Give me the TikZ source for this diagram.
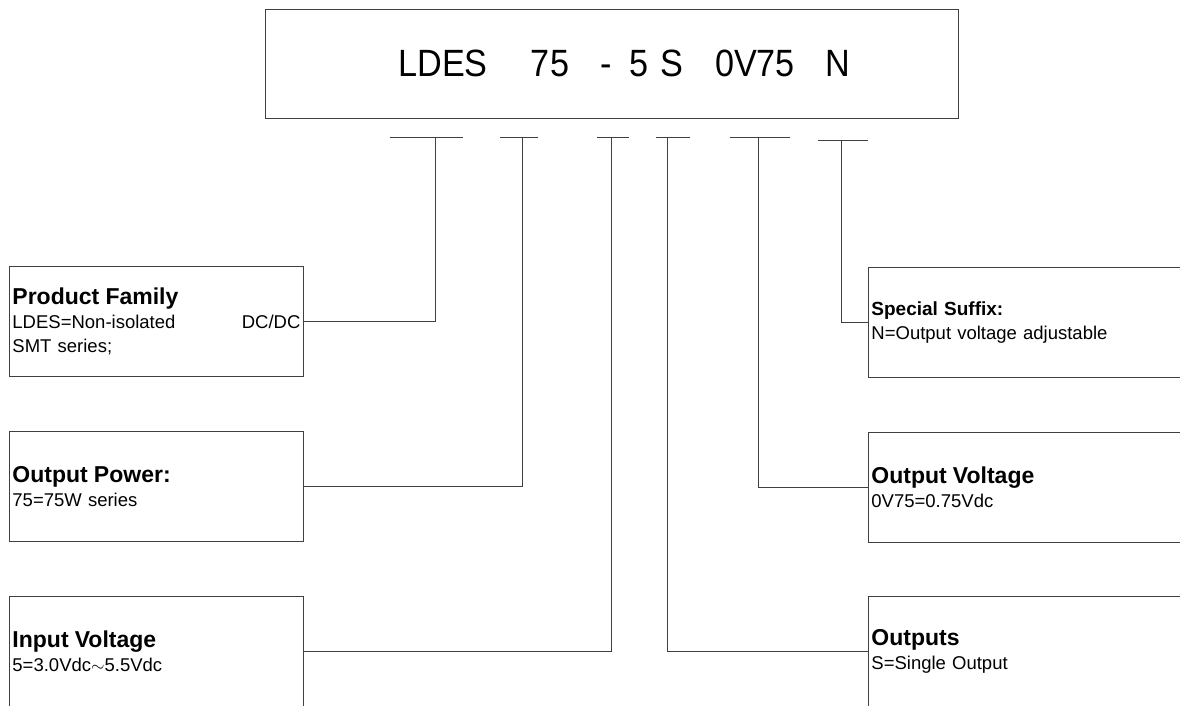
\documentclass[tikz,border=0pt]{standalone}
\usepackage{fontspec}
\setmainfont{Liberation Sans}
\newfontfamily\codefont[FakeStretch=0.9]{Liberation Sans}
\usepackage{tikz}
\usetikzlibrary{positioning}
\definecolor{linegray}{RGB}{64, 64, 64}
\newcommand{\boxtitle}[1]{{\fontsize{23}{24}\selectfont\bfseries #1}}

\begin{document}
\begin{tikzpicture}[x=1pt, y=-1pt,
    infobox/.style={draw=linegray, line width=0.9pt, minimum height=110pt, inner xsep=3pt, inner ysep=0pt,
                    align=left, anchor=north west, font=\fontsize{18.5}{24}\selectfont},
    codepart/.style={font=\codefont\fontsize{38}{38}\selectfont, anchor=base, inner sep=0pt},
    bar/.style={draw=linegray, line width=0.9pt}]
    \useasboundingbox (0,0) rectangle (1180,705);

    % model code
    \node[draw=linegray, line width=0.9pt, minimum width=693pt, minimum height=109pt, anchor=north west] (code) at (265,9) {};
    \node[codepart] (cLDES) at (443,76) {LDES};
    \node[codepart] (cPower) at (550,76) {75};
    \node[codepart] (cDash) at (606,76) {-};
    \node[codepart] (cInput) at (639,76) {5};
    \node[codepart] (cOut) at (672,76) {S};
    \node[codepart] (cVolt) at (755,76) {0V75};
    \node[codepart] (cSuffix) at (838,76) {N};

    % ticks under the code
    \coordinate (t1) at (435,137);
    \coordinate (t2) at (522,137);
    \coordinate (t3) at (611,137);
    \coordinate (t4) at (667,137);
    \coordinate (t5) at (758,137);
    \coordinate (t6) at (841,140);
    \draw[bar] ([xshift=-45pt]t1) -- ([xshift=28pt]t1);
    \draw[bar] ([xshift=-22pt]t2) -- ([xshift=16pt]t2);
    \draw[bar] ([xshift=-14pt]t3) -- ([xshift=18pt]t3);
    \draw[bar] ([xshift=-11pt]t4) -- ([xshift=23pt]t4);
    \draw[bar] ([xshift=-28pt]t5) -- ([xshift=32pt]t5);
    \draw[bar] ([xshift=-23pt]t6) -- ([xshift=27pt]t6);

    % left boxes
    \node[infobox, text width=288pt] (family) at (9,266)
        {\boxtitle{Product Family}\\LDES=Non-isolated\hfill DC/DC\\SMT series;};
    \node[infobox, text width=288pt] (power) at (9,431)
        {\boxtitle{Output Power:}\\75=75W series};
    \node[infobox, text width=288pt] (input) at (9,596)
        {\boxtitle{Input Voltage}\\5=3.0Vdc$\sim$5.5Vdc};

    % right boxes
    \node[infobox, text width=320pt] (suffix) at (868,267)
        {{\fontsize{19}{24}\selectfont\bfseries Special Suffix:}\\N=Output voltage adjustable};
    \node[infobox, text width=320pt] (volt) at (868,432)
        {\boxtitle{Output Voltage}\\0V75=0.75Vdc};
    \node[infobox, text width=320pt] (outputs) at (868,596)
        {\boxtitle{Outputs}\\S=Single Output};

    % connectors
    \draw[bar] (family.east) -| (t1);
    \draw[bar] (power.east) -| (t2);
    \draw[bar] (input.east) -| (t3);
    \draw[bar] (outputs.west) -| (t4);
    \draw[bar] (volt.west) -| (t5);
    \draw[bar] (suffix.west) -| (t6);
\end{tikzpicture}
\end{document}
